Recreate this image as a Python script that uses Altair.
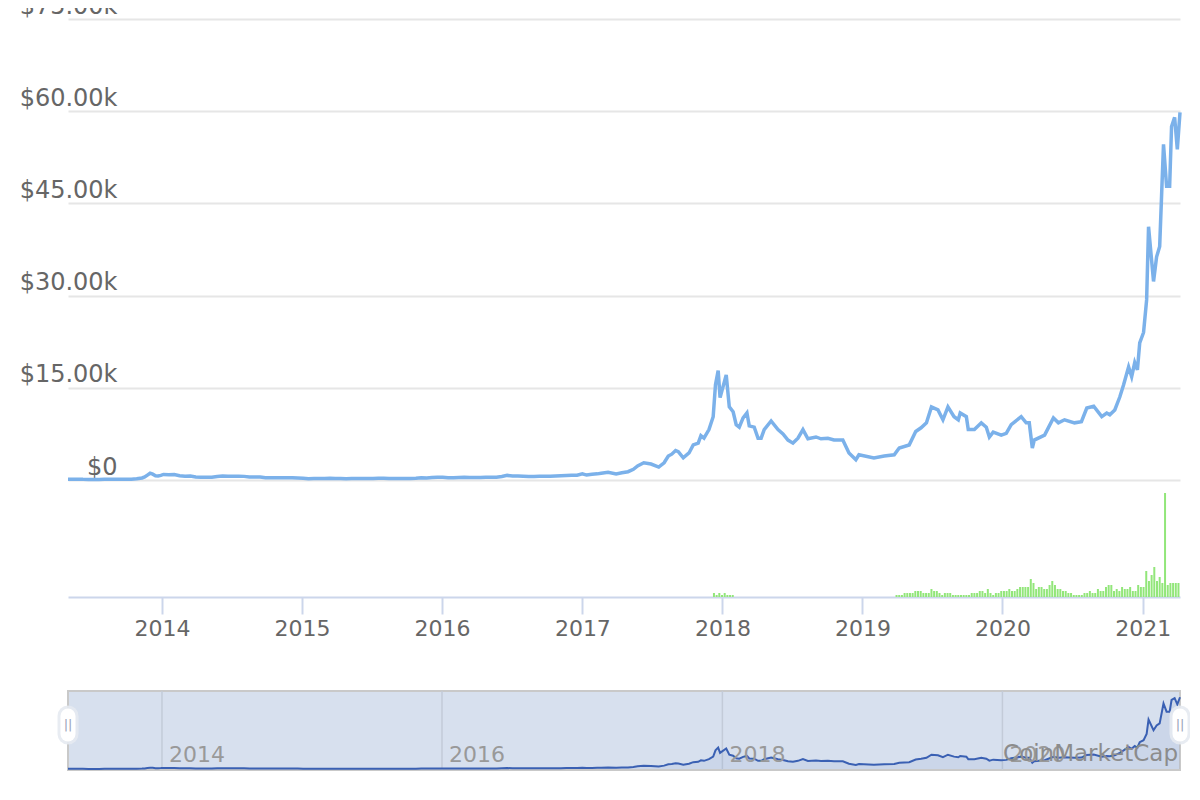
import altair as alt
import pandas as pd

# ---------------- data ----------------
price_dates = [
    "2013-05-01", "2013-05-12", "2013-05-26", "2013-06-09", "2013-06-23", "2013-07-07",
    "2013-07-21", "2013-08-04", "2013-08-18", "2013-09-01", "2013-09-15", "2013-09-29",
    "2013-10-13", "2013-10-27", "2013-11-10", "2013-11-17", "2013-11-24", "2013-12-01",
    "2013-12-08", "2013-12-15", "2013-12-22", "2013-12-29", "2014-01-05", "2014-01-19",
    "2014-02-02", "2014-02-16", "2014-03-02", "2014-03-16", "2014-03-30", "2014-04-13",
    "2014-04-27", "2014-05-11", "2014-05-25", "2014-06-08", "2014-06-22", "2014-07-06",
    "2014-07-20", "2014-08-03", "2014-08-17", "2014-08-31", "2014-09-14", "2014-09-28",
    "2014-10-12", "2014-10-26", "2014-11-09", "2014-11-23", "2014-12-07", "2014-12-21",
    "2015-01-04", "2015-01-18", "2015-02-01", "2015-02-15", "2015-03-01", "2015-03-15",
    "2015-03-29", "2015-04-12", "2015-04-26", "2015-05-10", "2015-05-24", "2015-06-07",
    "2015-06-21", "2015-07-05", "2015-07-19", "2015-08-02", "2015-08-16", "2015-08-30",
    "2015-09-13", "2015-09-27", "2015-10-11", "2015-10-25", "2015-11-08", "2015-11-22",
    "2015-12-06", "2015-12-20", "2016-01-03", "2016-01-17", "2016-01-31", "2016-02-14",
    "2016-02-28", "2016-03-13", "2016-03-27", "2016-04-10", "2016-04-24", "2016-05-08",
    "2016-05-22", "2016-06-05", "2016-06-19", "2016-07-03", "2016-07-17", "2016-07-31",
    "2016-08-14", "2016-08-28", "2016-09-11", "2016-09-25", "2016-10-09", "2016-10-23",
    "2016-11-06", "2016-11-20", "2016-12-04", "2016-12-18", "2017-01-01", "2017-01-12",
    "2017-01-26", "2017-02-09", "2017-02-19", "2017-03-09", "2017-03-30", "2017-04-14",
    "2017-04-30", "2017-05-14", "2017-05-25", "2017-06-10", "2017-06-29", "2017-07-19",
    "2017-08-02", "2017-08-13", "2017-08-22", "2017-09-01", "2017-09-08", "2017-09-21",
    "2017-10-06", "2017-10-17", "2017-10-30", "2017-11-06", "2017-11-14", "2017-11-27",
    "2017-12-08", "2017-12-14", "2017-12-21", "2017-12-26", "2018-01-11", "2018-01-19",
    "2018-01-29", "2018-02-06", "2018-02-14", "2018-02-24", "2018-03-06", "2018-03-12",
    "2018-03-25", "2018-04-04", "2018-04-12", "2018-04-20", "2018-05-08", "2018-05-26",
    "2018-06-08", "2018-06-21", "2018-07-04", "2018-07-17", "2018-07-30", "2018-08-12",
    "2018-09-02", "2018-09-15", "2018-10-03", "2018-10-19", "2018-11-11", "2018-11-27",
    "2018-12-15", "2018-12-23", "2019-01-31", "2019-02-27", "2019-03-25", "2019-04-07",
    "2019-05-03", "2019-05-20", "2019-06-03", "2019-06-17", "2019-06-30", "2019-07-17",
    "2019-07-30", "2019-08-12", "2019-08-28", "2019-09-08", "2019-09-13", "2019-09-29",
    "2019-10-04", "2019-10-20", "2019-11-07", "2019-11-20", "2019-11-28", "2019-12-08",
    "2019-12-29", "2020-01-11", "2020-01-24", "2020-02-19", "2020-03-03", "2020-03-11",
    "2020-03-19", "2020-03-24", "2020-04-20", "2020-05-13", "2020-05-26", "2020-06-11",
    "2020-07-07", "2020-07-25", "2020-08-08", "2020-08-26", "2020-09-16", "2020-09-29",
    "2020-10-07", "2020-10-20", "2020-11-02", "2020-11-12", "2020-11-25", "2020-12-03",
    "2020-12-11", "2020-12-18", "2020-12-24", "2021-01-03", "2021-01-11", "2021-01-16",
    "2021-01-29", "2021-02-06", "2021-02-14", "2021-02-24", "2021-03-04", "2021-03-12",
    "2021-03-17", "2021-03-25", "2021-04-01", "2021-04-08",
]
price_usd = [
    117, 115, 133, 105, 100, 77,
    92, 105, 113, 138, 126, 125,
    138, 200, 330, 490, 800, 1100,
    950, 700, 650, 750, 900, 850,
    900, 700, 600, 630, 480, 430,
    450, 440, 580, 650, 600, 630,
    620, 590, 500, 480, 470, 380,
    380, 350, 360, 370, 375, 320,
    280, 210, 225, 235, 260, 285,
    245, 235, 220, 240, 240, 225,
    245, 260, 280, 280, 260, 230,
    235, 235, 245, 285, 370, 325,
    390, 440, 430, 380, 375, 405,
    435, 415, 420, 420, 460, 460,
    445, 575, 750, 670, 670, 620,
    570, 575, 605, 600, 615, 655,
    710, 730, 765, 790, 1000, 800,
    920, 1000, 1100, 1250, 1000, 1180,
    1350, 1750, 2300, 2800, 2600, 2100,
    2800, 3900, 4200, 4800, 4600, 3600,
    4400, 5700, 6000, 7200, 6800, 8200,
    10300, 15500, 17800, 13400, 17100, 11900,
    11100, 9000, 8600, 10100, 10900, 8800,
    8600, 6800, 6800, 8200, 9600, 8200,
    7500, 6500, 6000, 6800, 8200, 6700,
    7000, 6700, 6800, 6500, 6500, 4400,
    3300, 4100, 3600, 3900, 4100, 5200,
    5700, 7900, 8500, 9300, 11900, 11400,
    9800, 11900, 10300, 9800, 10900, 10300,
    8200, 8200, 9300, 8600, 7000, 7800,
    7300, 7600, 9000, 10300, 9300, 9300,
    5200, 6500, 7300, 10100, 9300, 9800,
    9300, 9500, 11700, 12000, 10300, 10900,
    10600, 11400, 13500, 15500, 18400, 16800,
    19100, 17900, 22300, 24000, 29300, 41200,
    32300, 36300, 38000, 54600, 47800, 47800,
    57500, 59000, 53800, 59800,
]

# weekly volume bars (relative heights)
vol_2017_start = "2017-12-10"
vol_2017 = [4, 2, 4, 2, 4, 2, 2, 2]
vol_2019_start = "2019-03-31"
vol_2019 = [
    2, 2, 2, 4, 4, 4, 4, 6, 6, 6,
    4, 4, 4, 8, 6, 6, 4, 2, 4, 4,
    4, 2, 2, 2, 2, 2, 2, 2, 4, 4,
    4, 6, 6, 4, 8, 4, 2, 4, 4, 6,
    6, 6, 8, 6, 6, 8, 10, 10, 10, 10,
    18, 14, 8, 10, 10, 8, 8, 12, 16, 12,
    8, 8, 6, 6, 4, 4, 2, 2, 2, 2,
    4, 4, 6, 4, 4, 8, 6, 6, 10, 12,
    12, 6, 8, 6, 10, 8, 8, 10, 6, 6,
    12, 10, 10, 26, 16, 22, 30, 16, 20, 14,
    104, 12, 14, 14, 14, 14,
]

axis_years = [2014, 2015, 2016, 2017, 2018, 2019, 2020, 2021]
nav_years = [2014, 2016, 2018, 2020]
price_ticks = [0, 15000, 30000, 45000, 60000, 75000]
range_start = "2013-05-01"
range_end = "2021-04-08"
watermark = "CoinMarketCap"

# ---------------- layout (pixels inside the plot area) ----------------
W, H = 1112, 752
PRICE_ZERO = 461     # y of $0 gridline
VOL_ZERO = 578       # y of volume baseline / x axis
NAV_TOP, NAV_BOT = 672, 751
NAV_ZERO, NAV_60K = 750, 678

price_min = -(H - PRICE_ZERO) / PRICE_ZERO * 75000
vol_domain = [-(H - VOL_ZERO), VOL_ZERO]
nav_ppd = (NAV_ZERO - NAV_60K) / 60000
nav_domain = [-(H - NAV_ZERO) / nav_ppd, NAV_ZERO / nav_ppd]

FONT = "DejaVu Sans"

xscale = alt.Scale(domain=[alt.DateTime(year=2013, month=5, date=1),
                           alt.DateTime(year=2021, month=4, date=8)], padding=0)
xaxis = alt.Axis(values=[alt.DateTime(year=y, month=1, date=1) for y in axis_years],
                 format="%Y", formatType="time", title=None, offset=-(H - VOL_ZERO),
                 domainColor="#ccd6eb", domainWidth=2, tickColor="#ccd6eb", tickWidth=2,
                 tickSize=17, labelPadding=4, labelFont=FONT, labelFontSize=22,
                 labelColor="#666666", grid=False, labelFlush=False, labelOverlap=False)


def X():
    return alt.X("date:T", scale=xscale, axis=xaxis)


yaxis = alt.Axis(values=price_ticks,
                 labelExpr="datum.value == 0 ? '$0' : '$' + format(datum.value / 1000, '.2f') + 'k'",
                 grid=True, gridColor="#e6e6e6", gridWidth=2, domain=False, ticks=False,
                 tickSize=0, labelPadding=-49, labelAlign="right", labelBaseline="alphabetic",
                 labelOffset=-6, labelFont=FONT, labelFontSize=24, labelColor="#666666",
                 title=None, labelFlush=False, labelOverlap=False)

price_df = pd.DataFrame({"date": price_dates, "price": price_usd})
vol_dates = (list(pd.date_range(vol_2017_start, periods=len(vol_2017), freq="7D").strftime("%Y-%m-%d"))
             + list(pd.date_range(vol_2019_start, periods=len(vol_2019), freq="7D").strftime("%Y-%m-%d")))
vol_df = pd.DataFrame({"date": vol_dates, "volume": vol_2017 + vol_2019})
box_df = pd.DataFrame({"date": [range_start], "date_end": [range_end]})
navyear_df = pd.DataFrame({"date": [f"{y}-01-01" for y in nav_years],
                           "label": [str(y) for y in nav_years]})
handle_df = pd.DataFrame({"date": [range_start, range_end], "g": ["||", "||"]})
mark_df = pd.DataFrame({"date": [range_end], "t": [watermark]})

# ---------------- layers ----------------
nav_box = alt.Chart(box_df).mark_rect(fill="#d7e0ee", stroke="#c9c9c9", strokeWidth=2).encode(
    x=X(), x2="date_end:T", y=alt.value(NAV_TOP), y2=alt.value(NAV_BOT))

nav_grid = alt.Chart(navyear_df).mark_rule(color="#c3cbd8", strokeWidth=1.5).encode(
    x=X(), y=alt.value(NAV_TOP), y2=alt.value(NAV_BOT))

nav_scale = alt.Scale(domain=nav_domain, nice=False, zero=False)
nav_area = alt.Chart(price_df).mark_area(color="#3d63b5", opacity=0.08).encode(
    x=X(), y=alt.Y("price:Q", scale=nav_scale, axis=None), y2=alt.datum(0))
nav_line = alt.Chart(price_df).mark_line(color="#3a60b3", strokeWidth=2).encode(
    x=X(), y=alt.Y("price:Q", scale=nav_scale, axis=None))

nav_labels = alt.Chart(navyear_df).mark_text(
    align="left", baseline="alphabetic", dx=7, font=FONT, fontSize=22, color="#999999").encode(
    x=X(), y=alt.value(743), text="label:N")

wm = alt.Chart(mark_df).mark_text(
    align="right", baseline="alphabetic", dx=-2, font=FONT, fontSize=23, color="#8c8c8c").encode(
    x=X(), y=alt.value(742), text="t:N")

handle_glow = alt.Chart(handle_df).mark_rule(
    color="#e6eaf1", strokeWidth=21, strokeCap="round", opacity=0.9).encode(
    x=X(), y=alt.value(697), y2=alt.value(715))
handle = alt.Chart(handle_df).mark_rule(color="white", strokeWidth=15, strokeCap="round").encode(
    x=X(), y=alt.value(697), y2=alt.value(715))
handle_txt = alt.Chart(handle_df).mark_text(
    font=FONT, fontSize=13, color="#9aa3b8", baseline="middle").encode(
    x=X(), y=alt.value(706), text="g:N")

bars = alt.Chart(vol_df).mark_bar(color="#92e67a", width=2).encode(
    x=X(),
    y=alt.Y("volume:Q", scale=alt.Scale(domain=vol_domain, nice=False, zero=False), axis=None),
    y2=alt.datum(0))

line = alt.Chart(price_df).mark_line(color="#7bb1ea", strokeWidth=3.5).encode(
    x=X(),
    y=alt.Y("price:Q", scale=alt.Scale(domain=[price_min, 75000], nice=False, zero=False),
            axis=yaxis))

chart = alt.layer(
    line, nav_box, nav_grid, nav_area, nav_line, nav_labels, wm,
    handle_glow, handle, handle_txt, bars
).resolve_scale(y="independent").resolve_axis(y="independent").properties(
    width=W, height=H,
    autosize=alt.AutoSizeParams(type="none"),
    padding={"left": 60, "top": 11, "right": 10, "bottom": 21},
    background="white",
).configure_view(strokeWidth=0)

chart.save("out.html", embed_options={"renderer": "svg", "actions": False})
